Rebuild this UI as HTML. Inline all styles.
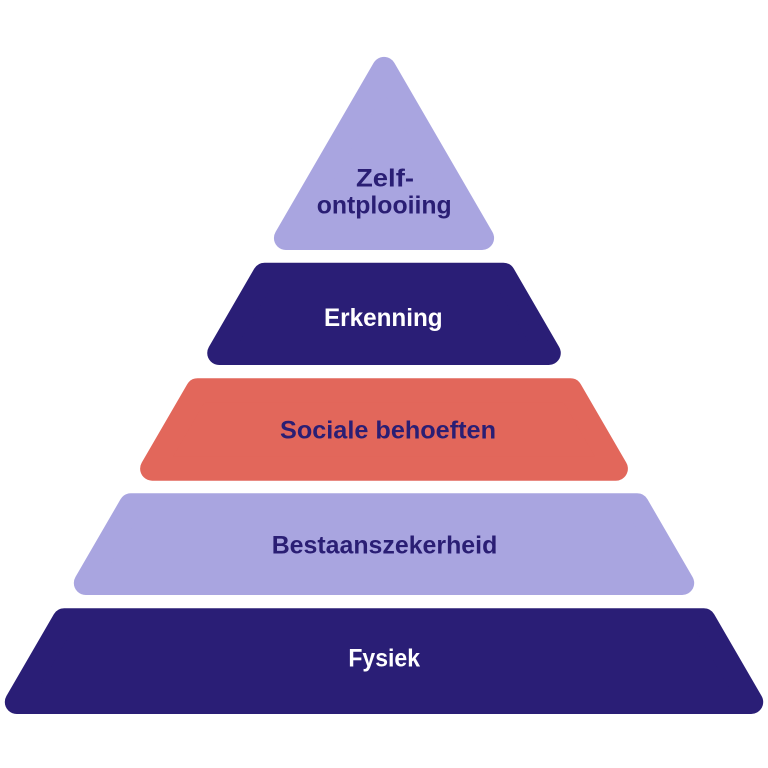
<!DOCTYPE html>
<html>
<head>
<meta charset="utf-8">
<style>
  html, body { margin: 0; padding: 0; background: #ffffff; }
  body { width: 768px; height: 768px; overflow: hidden; }
  svg { display: block; }
  text { font-family: "Liberation Sans", "DejaVu Sans", sans-serif; font-weight: bold; font-size: 25px; }
</style>
</head>
<body>
<svg width="768" height="768" viewBox="0 0 768 768" xmlns="http://www.w3.org/2000/svg">
  <rect width="768" height="768" fill="#ffffff"/>
  <g stroke-linejoin="round" stroke-width="24">
    <!-- Triangle: Zelf-ontplooiing -->
    <polygon points="384,68.9 482.08,238 285.92,238" fill="#A9A5E0" stroke="#A9A5E0"/>
    <!-- Erkenning -->
    <polygon points="264.63,274.7 503.37,274.7 548.78,353 219.22,353" fill="#2A1E76" stroke="#2A1E76"/>
    <!-- Sociale behoeften -->
    <polygon points="197.59,390.3 570.41,390.3 615.89,468.7 152.11,468.7" fill="#E2675B" stroke="#E2675B"/>
    <!-- Bestaanszekerheid -->
    <polygon points="130.89,505.3 637.11,505.3 682.18,583 85.82,583" fill="#A9A5E0" stroke="#A9A5E0"/>
    <!-- Fysiek -->
    <polygon points="64.19,620.3 703.81,620.3 751.2,702 16.8,702" fill="#2A1E76" stroke="#2A1E76"/>
  </g>
  <g text-anchor="middle">
    <text x="385" y="186.7" fill="#2A1E74" textLength="58" lengthAdjust="spacingAndGlyphs">Zelf-</text>
    <text x="384.2" y="213.3" fill="#2A1E74" textLength="135" lengthAdjust="spacingAndGlyphs">ontplooiing</text>
    <text x="383.3" y="326" fill="#ffffff" textLength="118.7" lengthAdjust="spacingAndGlyphs">Erkenning</text>
    <text x="388" y="438.3" fill="#2A1E74" textLength="216" lengthAdjust="spacingAndGlyphs">Sociale behoeften</text>
    <text x="384.5" y="553.3" fill="#2A1E74" textLength="225.6" lengthAdjust="spacingAndGlyphs">Bestaanszekerheid</text>
    <text x="384.2" y="666.7" fill="#ffffff" textLength="71.7" lengthAdjust="spacingAndGlyphs">Fysiek</text>
  </g>
</svg>
</body>
</html>
